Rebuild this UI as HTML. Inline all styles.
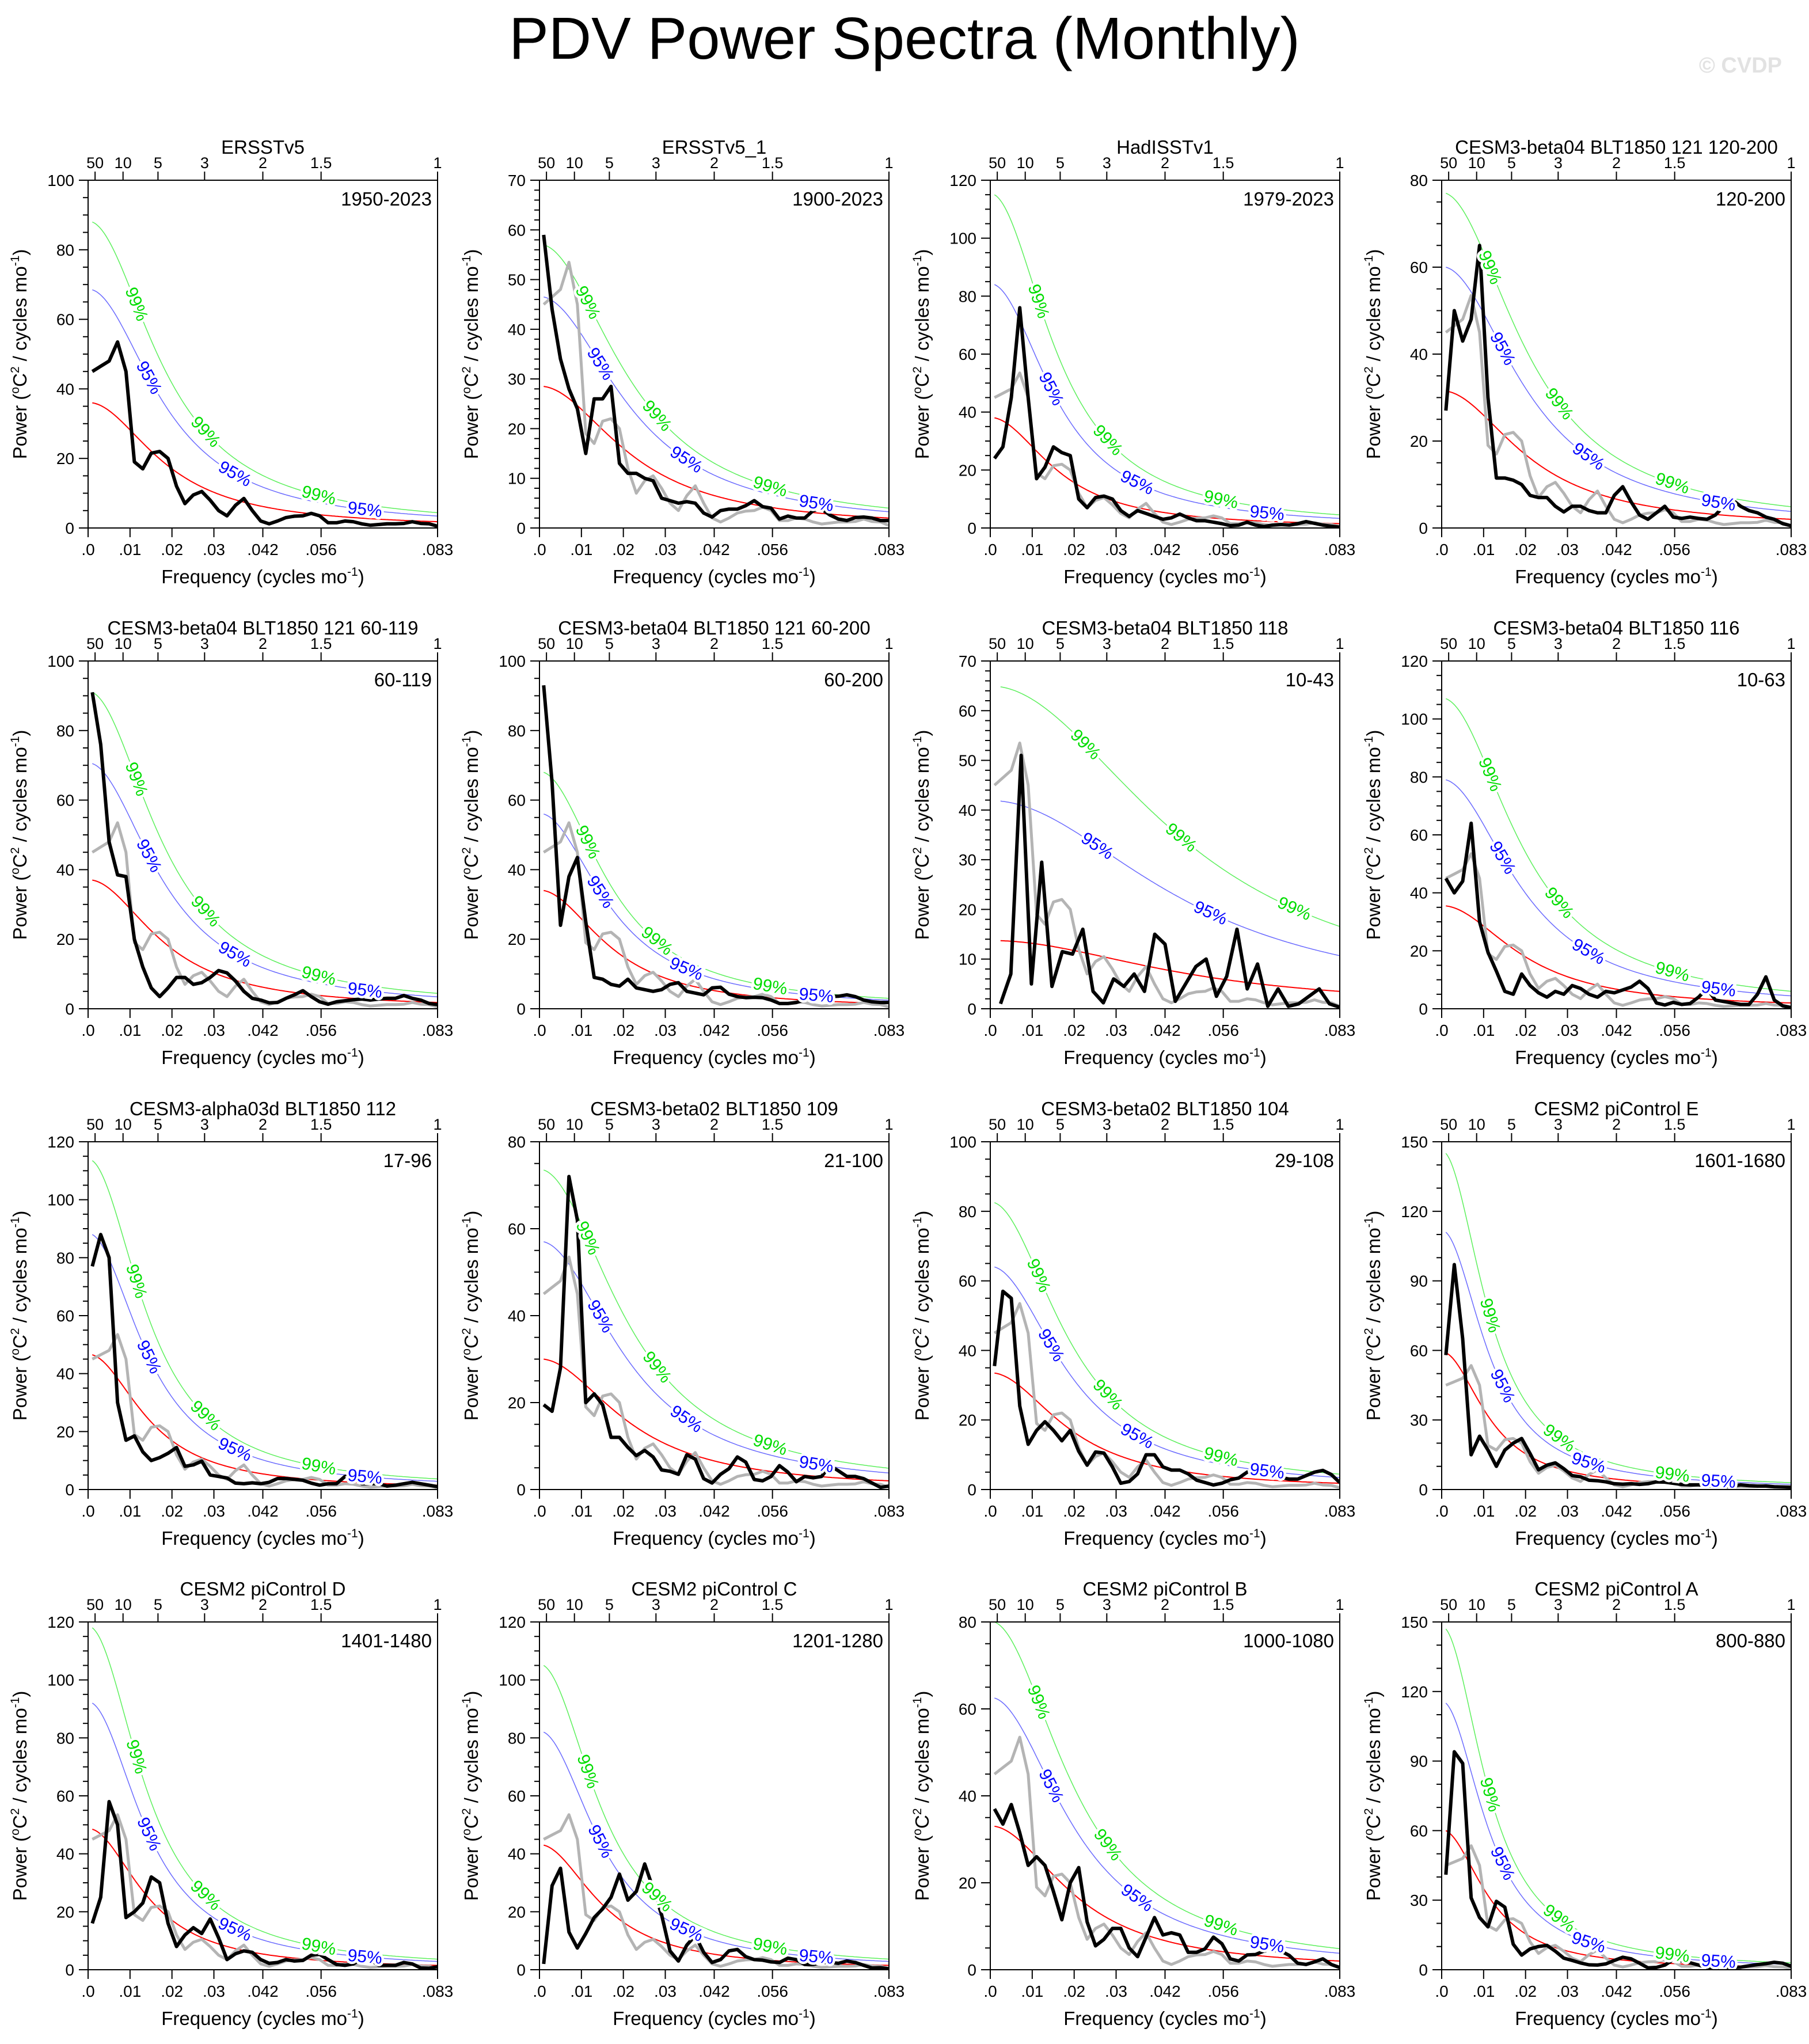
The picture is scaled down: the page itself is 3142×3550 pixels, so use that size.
<!DOCTYPE html>
<html><head><meta charset="utf-8"><title>PDV Power Spectra (Monthly)</title>
<style>
html,body{margin:0;padding:0;background:#fff;}
svg{display:block;font-family:"Liberation Sans",Arial,sans-serif;}
</style></head>
<body>
<svg id="chart" xmlns="http://www.w3.org/2000/svg" width="3142" height="3550" viewBox="0 0 3142 3550">
<rect x="0" y="0" width="3142" height="3550" fill="#fff"/>
<text x="1571" y="102" text-anchor="middle" font-size="103" fill="#000">PDV Power Spectra (Monthly)</text>
<text x="3095" y="126" text-anchor="end" font-size="38" font-weight="bold" fill="#e2e2e2">© CVDP</text>
</svg>
<script>
// ---------- data ----------
const titles = ["ERSSTv5","ERSSTv5_1","HadISSTv1","CESM3-beta04 BLT1850 121 120-200",
 "CESM3-beta04 BLT1850 121 60-119","CESM3-beta04 BLT1850 121 60-200","CESM3-beta04 BLT1850 118","CESM3-beta04 BLT1850 116",
 "CESM3-alpha03d BLT1850 112","CESM3-beta02 BLT1850 109","CESM3-beta02 BLT1850 104","CESM2 piControl E",
 "CESM2 piControl D","CESM2 piControl C","CESM2 piControl B","CESM2 piControl A"];
const years = ["1950-2023","1900-2023","1979-2023","120-200","60-119","60-200","10-43","10-63",
 "17-96","21-100","29-108","1601-1680","1401-1480","1201-1280","1000-1080","800-880"];
const yMax = [100,70,120,80, 100,100,70,120, 120,80,100,150, 120,120,80,150];
const yStep = [20,10,20,20, 20,20,10,20, 20,20,20,30, 20,20,20,30];
const redStart = [36,28.5,38,31.5, 37,34,13.7,35.5, 46.5,30,33.5,59, 48.5,43,33,60];
const redEnd   = [1.8,2.0,1.5,2.0, 1.8,1.5,3.5,2.0, 1.5,2.0,1.8,1.2, 1.5,1.5,2.0,1.2];
const c95Start = [68.5,46.5,84,60, 70.5,56,41.8,79, 88,57,64,111, 92,82,62.5,115];
const c99Start = [88,57,115,77, 91,68,64.8,107, 113.5,73.5,82.5,145, 118,105,80,147];
const startFreq = [0.001,0.001,0.001,0.001, 0.001,0.001,0.00245,0.001, 0.001,0.001,0.001,0.001, 0.001,0.001,0.001,0.001];
const topPeriods = [50,10,5,3,2,1.5,1];
const bottomTicks = [0,0.01,0.02,0.03,1/24,1/18,1/12];
const bottomLabels = [".0",".01",".02",".03",".042",".056",".083"];

const obs = [45,46.5,48,53.5,45,19,17,21.5,22,20, 12,7,9.5,10.5,8,5,3.5,6.5,8.5,5, 2,1.2,2,3,3.4,3.5,4.2,3.5,1.5,1.5, 2,1.8,1.2,0.8,1,1.2,1.2,1.3,1.8,1.3, 1.2,0.5];
const s1 = [59,44,34,28,24,15,26,26,28.5,13, 11,11,10,9.5,6,5.5,5,5.3,5,3, 2.2,3.5,3.8,3.8,4.5,5.5,4.3,4,1.8,2.4, 2,2,3.5,3.8,2.6,1.8,1.5,2.1,2.2,2, 1.5,1.5];
const s2 = [24,28,45,76,45,17,21,28,26,25, 10,7,10.5,11,10,6,4,6,5,4, 3,3.5,4.8,3.5,2.5,2.5,2,1.5,0.8,1, 2,1,0.5,1,1.2,1,1.5,2.2,1.6,1, 0.6,0.3];
const s3 = [27,50,43,48,65,30,11.5,11.5,11,10, 7.5,7,7,5,3.7,5,5,4,3.5,3.5, 7.5,9.5,6,3,2,3.5,5,2.5,2.2,2.5, 2.2,2,3,5,6.5,5,4,3.5,2.5,2, 1,0.5];
const s4 = [91,76,48,38.5,38,20,12,6,3.5,6, 9,9,7,7.5,9,11,10.3,8,5,3, 2.5,1.7,1.8,3,4,5.2,3.5,2,1.3,2, 2.3,2.6,2.8,2.5,2.8,3,3,3.8,3,2.5, 1.5,1.2];
const s5 = [93,65,24,38,43.5,25,9,8.5,7,6.5, 8.5,6,5.5,5,5.5,7,7.5,5,4.5,4, 6,6.2,4.2,3.5,3.2,3.3,3.2,2.5,1.5,1.5, 1.8,2.5,3,3.2,3.5,3.6,4,3.5,2.5,2, 1.8,1.8];
const s6 = [1,7,51,5,29.5,4.5,11.5,11,16,3.5, 1.2,6,4.5,7,3.5,15,13,1.5,5,8.5, 10,2.5,6.5,16,4,9,0.5,4,0.5,1, 2.5,4,1,0.3];
const s7 = [45,40,44,64,30,19.5,13,6,5,12, 8,5.5,4,6,5,8,7,5,4,6, 5.5,6.5,7.5,9.5,7,2,1.3,2.2,1.5,1.8, 4,7,3,2.5,2,1.5,1.5,5,11,3, 1,0.4];
const s8 = [77,88,80,30,17,18.5,13,10,11,12.5, 14.5,8,8.5,9.8,5,4.5,4,2.2,2,2.3, 2,2.5,3.8,3.8,3.5,3.2,2.2,1.5,2,2, 4.5,5,2,2,2,1.2,1.5,2,2.5,2, 1.5,1];
const s9 = [19.5,18,28,72,62,20,22,19.5,12,12, 9.7,7.8,9,7.5,4.5,4.2,3.5,8,7,2.5, 1.5,3.5,4.8,7.5,6.3,2.3,2,3,5.5,4, 1.8,3,2.7,3,5.5,4.3,3,3,2.5,1.5, 0.5,0.8];
const s10 = [35.5,57,55,24,13,17,19.5,17,14,17, 11,7,10.8,10.5,6.5,1.8,2.3,4.5,10,10, 6.5,5.6,5.6,4.5,2.7,2,1.3,1.8,2.8,3.3, 5,5,4.2,4,3.5,3,3,4,5,5.5, 4.3,2];
const s11 = [58,97,65,15,23,17,10,17,20,22, 15.5,8.5,10.5,11.5,9,6,5.5,4,3.8,3.3, 2.5,2.3,2.5,2.2,2.5,3.3,3.2,2.7,2.2,2, 2,1.8,1.2,1.2,1.6,2,1.7,1.5,1.5,1.2, 1.1,1];
const s12 = [16,25,58,50,18,20,23,32,30,16, 8,12,14.5,12.5,17.5,11,3.5,5.5,6.5,6, 3.5,2.2,2.5,3.5,3,3.2,5,5.3,3.5,1.8, 1.5,2,3.8,3.5,1.5,1.5,1.5,2.5,2,0.6, 0.5,1];
const s13 = [2,29,35,13,7.5,12.5,18,21,25,33, 24,27,36.5,28,19,6.5,3,8.5,11.8,6, 2.5,3.5,6.5,7,4.5,3.5,3.3,2.7,2.5,4, 3.5,1.8,1.8,2.5,2.5,2.2,3,2.5,1.5,0.6, 0.7,0.3];
const s14 = [37,33.5,38,31.5,24,26,24,18,11.5,20, 23.5,11,5.5,7,9.5,9.5,5,3,7.5,12, 8,8.5,8,4,4,4.8,7.5,6,2.5,2, 3.4,3.5,4.3,4.5,4.3,3.3,1.5,1.2,1.8,2.5, 1.2,0.5];
const s15 = [41,94,89,31,22.5,18.5,29.5,27,11,6.3, 9,10,10.5,8,5,4,2.9,2.1,2,2.5, 4,5.4,4.7,2.8,0.8,1,2,4.3,3.8,3, 2,1,0.9,1.2,1,1.1,1.7,2.2,2.6,3.2, 2.8,1.5];
const seriesList = [obs,s1,s2,s3,s4,s5,s6,s7,s8,s9,s10,s11,s12,s13,s14,s15];

// ---------- layout ----------
const colLeft = [153,937,1720,2504];
const rowTop = [313,1148,1983,2817];
const PW = 607, PH = 604, FMAX = 1/12;
const NS = "http://www.w3.org/2000/svg";
const svg = document.getElementById("chart");

function mk(tag, attrs, parent){
  const e = document.createElementNS(NS, tag);
  for (const k in attrs) e.setAttribute(k, attrs[k]);
  (parent||svg).appendChild(e);
  return e;
}
function minorStepOf(step){ return step===30 ? 10 : (step===10 ? 2 : 5); }

function solveR(f0, ratio){
  const c0 = Math.cos(2*Math.PI*f0), cE = Math.cos(2*Math.PI*FMAX);
  let lo=0, hi=0.9999;
  for (let k=0;k<80;k++){
    const r=(lo+hi)/2;
    const g=(1-2*r*cE+r*r)/(1-2*r*c0+r*r);
    if (g<ratio) lo=r; else hi=r;
  }
  return (lo+hi)/2;
}

for (let p=0; p<16; p++){
  const L = colLeft[p%4], T = rowTop[Math.floor(p/4)], B = T+PH, R = L+PW;
  const ymax = yMax[p];
  const fx = f => L + f/FMAX*PW;
  const fy = v => B - v/ymax*PH;

  const g = mk("g", {});
  
  

  const cp = mk("clipPath", {id:"clip"+p}, g);
  mk("rect", {x:L, y:T, width:PW, height:PH}, cp);

  const f0 = startFreq[p];
  const r = solveR(f0, redStart[p]/redEnd[p]);
  const norm = 1-2*r*Math.cos(2*Math.PI*f0)+r*r;
  const red = f => redStart[p]*norm/(1-2*r*Math.cos(2*Math.PI*f)+r*r);
  const k95 = c95Start[p]/redStart[p], k99 = c99Start[p]/redStart[p];
  function curvePath(k){
    let d="";
    for (let i=0;i<=200;i++){
      const f=f0+(FMAX-f0)*i/200;
      d += (i?"L":"M")+fx(f).toFixed(1)+","+fy(red(f)*k).toFixed(1);
    }
    return d;
  }
  const cg = mk("g", {"clip-path":"url(#clip"+p+")"}, g);
  const pr = mk("path", {d:curvePath(1), fill:"none", stroke:"#ff0000", "stroke-width":2}, cg);
  
  
  const p95 = mk("path", {d:curvePath(k95), fill:"none", stroke:"#6a6aff", "stroke-width":1.5}, cg);
  
  
  const p99 = mk("path", {d:curvePath(k99), fill:"none", stroke:"#5cf05c", "stroke-width":1.5}, cg);
  
  

  function seriesPath(arr, fs){
    const n=arr.length; let d="";
    for (let i=0;i<n;i++){
      const f = fs + (FMAX-fs)*i/(n-1);
      d += (i?"L":"M")+fx(f).toFixed(1)+","+fy(arr[i]).toFixed(1);
    }
    return d;
  }
  if (p>0){
    const gp = mk("path", {d:seriesPath(obs,0.001), fill:"none", stroke:"#b4b4b4", "stroke-width":5, "stroke-linejoin":"round"}, cg);
    
    
  }
  const bp = mk("path", {d:seriesPath(seriesList[p], f0), fill:"none", stroke:"#000", "stroke-width":6, "stroke-linejoin":"round"}, cg);
  
  

  const l99 = (p===6) ? [0.0227,0.0455,0.0725] : [0.0115,0.028,0.055];
  const l95 = (p===6) ? [0.0255,0.0525] : [0.0145,0.035,0.066];
  function addLab(list, k, txt, col, nm){
    for (const f of list){
      const x = fx(f), y = fy(red(f)*k);
      const x2 = fx(f+0.0005), y2 = fy(red(f+0.0005)*k);
      const ang = Math.atan2(y2-y, x2-x)*180/Math.PI;
      const t = mk("text", {x:x, y:y, "text-anchor":"middle", "dominant-baseline":"central",
        "font-size":30, fill:col, stroke:"#fff", "stroke-width":9, "paint-order":"stroke",
        transform:"rotate("+ang.toFixed(1)+" "+x.toFixed(1)+" "+y.toFixed(1)+")"}, g);
      t.textContent = txt;
      
      
    }
  }
  addLab(l99, k99, "99%", "#00dd00", 'label-99-percent');
  addLab(l95, k95, "95%", "#0000ff", 'label-95-percent');

  const fr = mk("rect", {x:L, y:T, width:PW, height:PH, fill:"none", stroke:"#000", "stroke-width":2}, g);
  
  

  const ms = minorStepOf(yStep[p]);
  for (let v=0; v<=ymax+1e-9; v+=ms){
    const major = Math.abs(v/yStep[p]-Math.round(v/yStep[p]))<1e-6;
    mk("line", {x1:L-(major?16:9), x2:L, y1:fy(v), y2:fy(v), stroke:"#000", "stroke-width":2}, g);
    if (major){
      const t = mk("text", {x:L-24, y:fy(v)+10, "text-anchor":"end", "font-size":28}, g);
      t.textContent = String(Math.round(v));
      
      
    }
  }
  for (let i=0;i<bottomTicks.length;i++){
    const x = fx(bottomTicks[i]);
    mk("line", {x1:x, x2:x, y1:B, y2:B+16, stroke:"#000", "stroke-width":2}, g);
    const t = mk("text", {x:x, y:B+47, "text-anchor":"middle", "font-size":28}, g);
    t.textContent = bottomLabels[i];
    
    
  }
  for (const P of topPeriods){
    const x = fx(1/(12*P));
    mk("line", {x1:x, x2:x, y1:T, y2:T-15, stroke:"#000", "stroke-width":2}, g);
    const t = mk("text", {x:x, y:T-21, "text-anchor":"middle", "font-size":27}, g);
    t.textContent = String(P);
    
    
  }
  const tt = mk("text", {x:L+PW/2, y:T-46, "text-anchor":"middle", "font-size":33}, g);
  tt.textContent = titles[p];
  
  
  const yr = mk("text", {x:R-10, y:T+44, "text-anchor":"end", "font-size":33}, g);
  yr.textContent = years[p];
  
  

  const xt = mk("text", {x:L+PW/2, y:B+96, "text-anchor":"middle", "font-size":33}, g);
  
  
  xt.appendChild(document.createTextNode("Frequency (cycles mo"));
  const sx = mk("tspan", {dy:-13, "font-size":21}, xt); sx.textContent="-1";
  const ex = mk("tspan", {dy:13}, xt); ex.textContent=")";

  const cx = L-107, cy = T+PH/2;
  const yt = mk("text", {x:cx, y:cy, "text-anchor":"middle", "font-size":33, transform:"rotate(-90 "+cx+" "+cy+")"}, g);
  
  
  yt.appendChild(document.createTextNode("Power ("));
  const a1 = mk("tspan", {dy:-13, "font-size":21}, yt); a1.textContent="o";
  const a2 = mk("tspan", {dy:13}, yt); a2.textContent="C";
  const a3 = mk("tspan", {dy:-13, "font-size":21}, yt); a3.textContent="2";
  const a4 = mk("tspan", {dy:13}, yt); a4.textContent=" / cycles mo";
  const a5 = mk("tspan", {dy:-13, "font-size":21}, yt); a5.textContent="-1";
  const a6 = mk("tspan", {dy:13}, yt); a6.textContent=")";
}
</script>
</body></html>
